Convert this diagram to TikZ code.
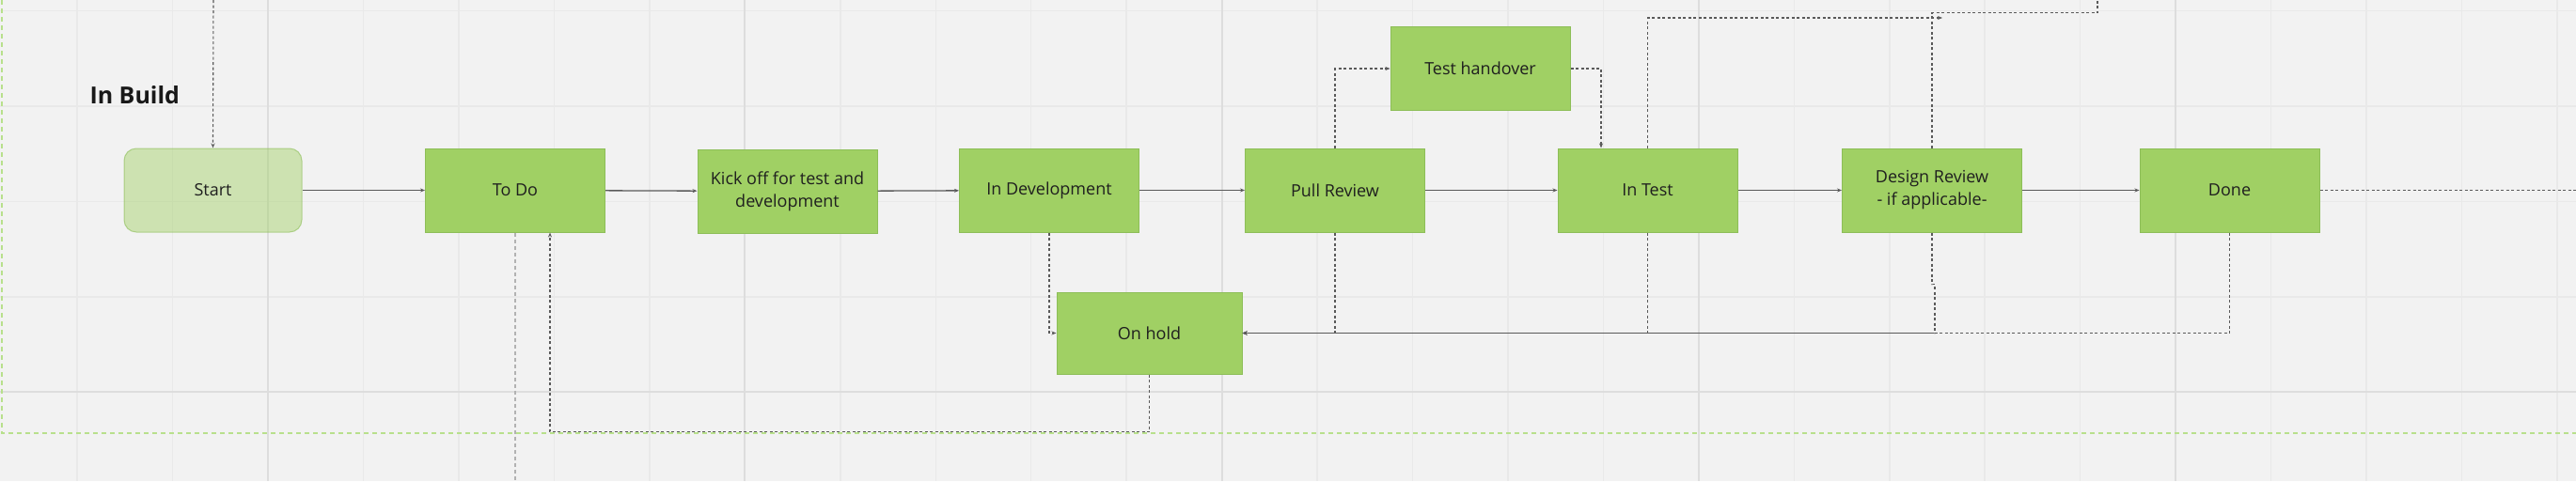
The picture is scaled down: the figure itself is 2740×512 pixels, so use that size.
\documentclass[tikz,border=0pt]{standalone}
\usepackage{fontspec}
\setmainfont{Open Sans}
\usepackage{tikz}
\usetikzlibrary{positioning, arrows.meta}

\definecolor{boardbg}{HTML}{F2F2F2}
\definecolor{gridlight}{HTML}{E9E9E9}
\definecolor{griddark}{HTML}{DDDDDD}
\definecolor{boxgreen}{HTML}{A0D064}
\definecolor{boxedge}{HTML}{8DBE58}
\definecolor{linkgray}{HTML}{5A5A5A}
\definecolor{framegreen}{HTML}{B8E08C}

\begin{document}
\begin{tikzpicture}[>={Stealth[length=5pt,width=4pt]}, x=1pt, y=-1pt]
  \fill[boardbg] (0,0) rectangle (2740,512);
  \useasboundingbox (0,0) rectangle (2740,512);

  % board grid
  \foreach \i in {0,...,26} {
    \draw[gridlight, line width=1.5pt] ({82.2+101.45*\i},0) -- ++(0,512);
  }
  \foreach \i in {0,...,4} {
    \draw[gridlight, line width=1.5pt] (0,{11.4+101.45*\i}) -- ++(2740,0);
  }
  \foreach \i in {2,7,12,17,22} {
    \draw[griddark, line width=1.8pt] ({82.2+101.45*\i},0) -- ++(0,512);
  }
  \draw[griddark, line width=1.8pt] (0,417.2) -- ++(2740,0);

  % frame of the column
  \draw[framegreen, line width=1.2pt, dash pattern=on 5pt off 4pt] (2,0) -- (2,461) -- (2740,461);

  \tikzset{state/.style={rectangle, fill=boxgreen, draw=boxedge, line width=1pt,
      minimum width=191pt, minimum height=89pt, align=center, text=black!88,
      font=\fontsize{18}{24}\selectfont}}
  \tikzset{startstate/.style={state, rounded corners=13pt, fill opacity=0.45,
      draw opacity=0.6, text opacity=1, minimum width=189pt}}

  \node[anchor=west, text=black!90, font=\bfseries\fontsize{25}{30}\selectfont] (title) at (92,101) {In Build};

  \node[startstate] (start) at (226.5,202.5) {Start};
  \node[state] (todo) at (548,202.5) {To Do};
  \node[state] (kickoff) at (837.5,203.5) {Kick off for test and\\development};
  \node[state] (indev) at (1116,202.5) {In Development};
  \node[state] (pull) at (1420,202.5) {Pull Review};
  \node[state] (handover) at (1574.5,73) {Test handover};
  \node[state] (intest) at (1752.5,202.5) {In Test};
  \node[state] (design) at (2055,202.5) {Design Review\\- if applicable-};
  \node[state] (done) at (2371.5,202.5) {Done};
  \node[state, minimum width=197pt, minimum height=87pt] (hold) at (1222.5,354.5) {On hold};

  \coordinate (entry) at (227,0);
  \coordinate (exitright) at (2740,202.5);
  \coordinate (todoexit) at (548,512);
  \coordinate (retest) at (2066,19);
  \coordinate (exitup) at (2231,0);

  \tikzset{flow/.style={->, linkgray, line width=1.3pt}}
  \tikzset{link/.style={linkgray, line width=1.1pt, dash pattern=on 3pt off 2.5pt}}

  % main flow
  \path (start) edge [flow] (todo);
  \path (todo) edge [flow] (kickoff);
  \path (kickoff) edge [flow] (indev);
  \path (indev) edge [flow] (pull);
  \path (pull) edge [flow] (intest);
  \path (intest) edge [flow] (design);
  \path (design) edge [flow] (done);

  % side routes
  \draw[link, ->] (entry) -- (start.north);
  \draw[link] (done.east) -- (exitright);
  \draw[gray!60, line width=1.3pt, dash pattern=on 4pt off 3pt] (todo.south) -- (todoexit);
  \draw[link, ->] (indev.south) |- (hold.west);
  \draw[link, ->] (hold.south) -- ++(0,61) -| ([xshift=37pt]todo.south);
  \draw[link, ->] (pull.north) |- (handover.west);
  \draw[link, ->] (handover.east) -| ([xshift=-49.5pt]intest.north);
  \draw[link, ->] (pull.south) |- (hold.east);
  \draw[link, ->] (intest.south) |- (hold.east);
  \draw[link, ->] (design.south) -- ++(0,55) -- ++(3,0) |- (hold.east);
  \draw[link, ->] (done.south) |- (hold.east);
  \draw[link, ->] (intest.north) |- (retest);
  \draw[link] (design.north) -- ++(0,-144) -| (exitup);
\end{tikzpicture}
\end{document}
